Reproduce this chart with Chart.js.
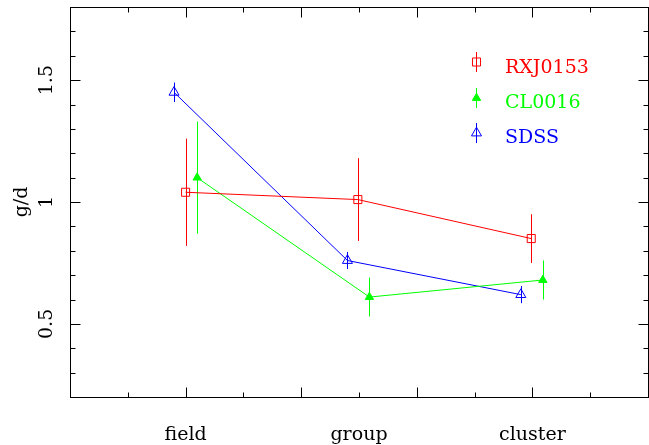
<!DOCTYPE html>
<html>
<head>
<meta charset="utf-8">
<script src="https://cdn.jsdelivr.net/npm/chart.js@4/dist/chart.umd.min.js"></script>
<style>
    html, body { margin: 0; padding: 0; background: #fff; }
    #wrap { width: 649px; height: 445px; }
</style>
</head>
<body>
<div id="wrap"><canvas id="chart" width="649" height="445"></canvas></div>
<script>
// categories on the x axis and where they sit
const categories = ['field', 'group', 'cluster'];
const categoryX = [1, 2.5, 4];

// series (x is slightly offset per sample so the error bars don't overlap)
const seriesNames = ['RXJ0153', 'CL0016', 'SDSS'];
const rxjX = [1.0, 2.49, 3.99];
const rxjY = [1.04, 1.01, 0.85];
const rxjErr = [0.22, 0.17, 0.10];

const clX = [1.1, 2.59, 4.09];
const clY = [1.10, 0.61, 0.68];
const clErr = [0.23, 0.08, 0.08];

const sdssX = [0.9, 2.4, 3.9];
const sdssY = [1.45, 0.76, 0.62];
const sdssErr = [0.04, 0.035, 0.035];

// y tick labels
const yTicks = [0.5, 1, 1.5];
const yTickLabels = ['0.5', '1', '1.5'];
const yLabel = 'g/d';

const FONT = '19px "DejaVu Serif"';
const colors = ['#ff0000', '#00ff00', '#0000ff'];

function pts(xs, ys) {
    return xs.map((x, i) => ({ x: x, y: ys[i] }));
}

const series = [
    { name: seriesNames[0], xs: rxjX, ys: rxjY, err: rxjErr, style: 'rect', radius: 5.7, fill: false },
    { name: seriesNames[1], xs: clX, ys: clY, err: clErr, style: 'triangle', radius: 4.8, fill: true },
    { name: seriesNames[2], xs: sdssX, ys: sdssY, err: sdssErr, style: 'triangle', radius: 5.8, fill: false }
];

function px(v) { return Math.round(v) + 0.5; }

const errorBars = {
    id: 'errorBars',
    beforeDatasetsDraw(chart) {
        const ctx = chart.ctx;
        const xs = chart.scales.x, ys = chart.scales.y;
        ctx.save();
        ctx.lineWidth = 1;
        series.forEach((s, k) => {
            ctx.strokeStyle = colors[k];
            s.xs.forEach((x, i) => {
                const X = px(xs.getPixelForValue(x));
                ctx.beginPath();
                ctx.moveTo(X, ys.getPixelForValue(s.ys[i] + s.err[i]));
                ctx.lineTo(X, ys.getPixelForValue(s.ys[i] - s.err[i]));
                ctx.stroke();
            });
        });
        ctx.restore();
    }
};

const frame = {
    id: 'frame',
    afterDraw(chart) {
        const ctx = chart.ctx;
        const a = chart.chartArea;
        const xs = chart.scales.x, ys = chart.scales.y;
        const L = px(a.left), R = px(a.right), T = px(a.top), B = px(a.bottom);
        ctx.save();
        ctx.strokeStyle = '#000';
        ctx.lineWidth = 1;
        ctx.strokeRect(L, T, R - L, B - T);

        ctx.beginPath();
        // y ticks, left and right, pointing inward
        for (let i = 2; i <= 18; i++) {
            const v = i / 10;
            const Y = px(ys.getPixelForValue(v));
            const len = (i % 5 === 0) ? 10 : 5;
            ctx.moveTo(L, Y); ctx.lineTo(L + len, Y);
            ctx.moveTo(R, Y); ctx.lineTo(R - len, Y);
        }
        // x ticks, bottom and top
        for (let i = 1; i <= 9; i++) {
            const v = i / 2;
            const X = px(xs.getPixelForValue(v));
            const len = (i % 2 === 0) ? 10 : 5;
            ctx.moveTo(X, B); ctx.lineTo(X, B - len);
            ctx.moveTo(X, T); ctx.lineTo(X, T + len);
        }
        ctx.stroke();

        ctx.fillStyle = '#000';
        ctx.font = FONT;
        ctx.textAlign = 'center';
        ctx.textBaseline = 'alphabetic';
        categories.forEach((c, i) => {
            ctx.fillText(c, xs.getPixelForValue(categoryX[i]), 440);
        });

        yTicks.forEach((v, i) => {
            ctx.save();
            ctx.translate(52, ys.getPixelForValue(v));
            ctx.rotate(-Math.PI / 2);
            ctx.fillText(yTickLabels[i], 0, 0);
            ctx.restore();
        });

        ctx.save();
        ctx.translate(27, ys.getPixelForValue(1));
        ctx.rotate(-Math.PI / 2);
        ctx.fillText(yLabel, 0, 0);
        ctx.restore();

        // legend
        const legendY = [62, 98, 133];
        const textY = [73, 108, 143];
        series.forEach((s, k) => {
            ctx.strokeStyle = colors[k];
            ctx.fillStyle = s.fill ? colors[k] : 'rgba(0,0,0,0)';
            ctx.lineWidth = 1;
            ctx.beginPath();
            ctx.moveTo(476.5, legendY[k] - 10);
            ctx.lineTo(476.5, legendY[k] + 10);
            ctx.stroke();
            Chart.helpers.drawPoint(ctx, { pointStyle: s.style, radius: s.radius, rotation: 0, borderWidth: 1 }, 476.5, legendY[k]);
            ctx.fillStyle = colors[k];
            ctx.textAlign = 'left';
            ctx.fillText(s.name, 505, textY[k]);
        });
        ctx.restore();
    }
};

const ctx = document.getElementById('chart').getContext('2d');
const chart = new Chart(ctx, {
    type: 'line',
    data: {
        datasets: series.map((s, k) => ({
            label: s.name,
            data: pts(s.xs, s.ys),
            borderColor: colors[k],
            borderWidth: 1,
            tension: 0,
            pointStyle: s.style,
            pointRadius: s.radius,
            pointBorderWidth: 1,
            pointBorderColor: colors[k],
            pointBackgroundColor: s.fill ? colors[k] : 'rgba(0,0,0,0)'
        }))
    },
    options: {
        responsive: false,
        animation: false,
        devicePixelRatio: 1,
        layout: { autoPadding: false, padding: { left: 70, right: 1, top: 7, bottom: 48 } },
        plugins: { legend: { display: false }, tooltip: { enabled: false } },
        scales: {
            x: { type: 'linear', min: 0, max: 5, display: false },
            y: { type: 'linear', min: 0.2, max: 1.8, display: false }
        }
    },
    plugins: [errorBars, frame]
});
</script>
</body>
</html>
